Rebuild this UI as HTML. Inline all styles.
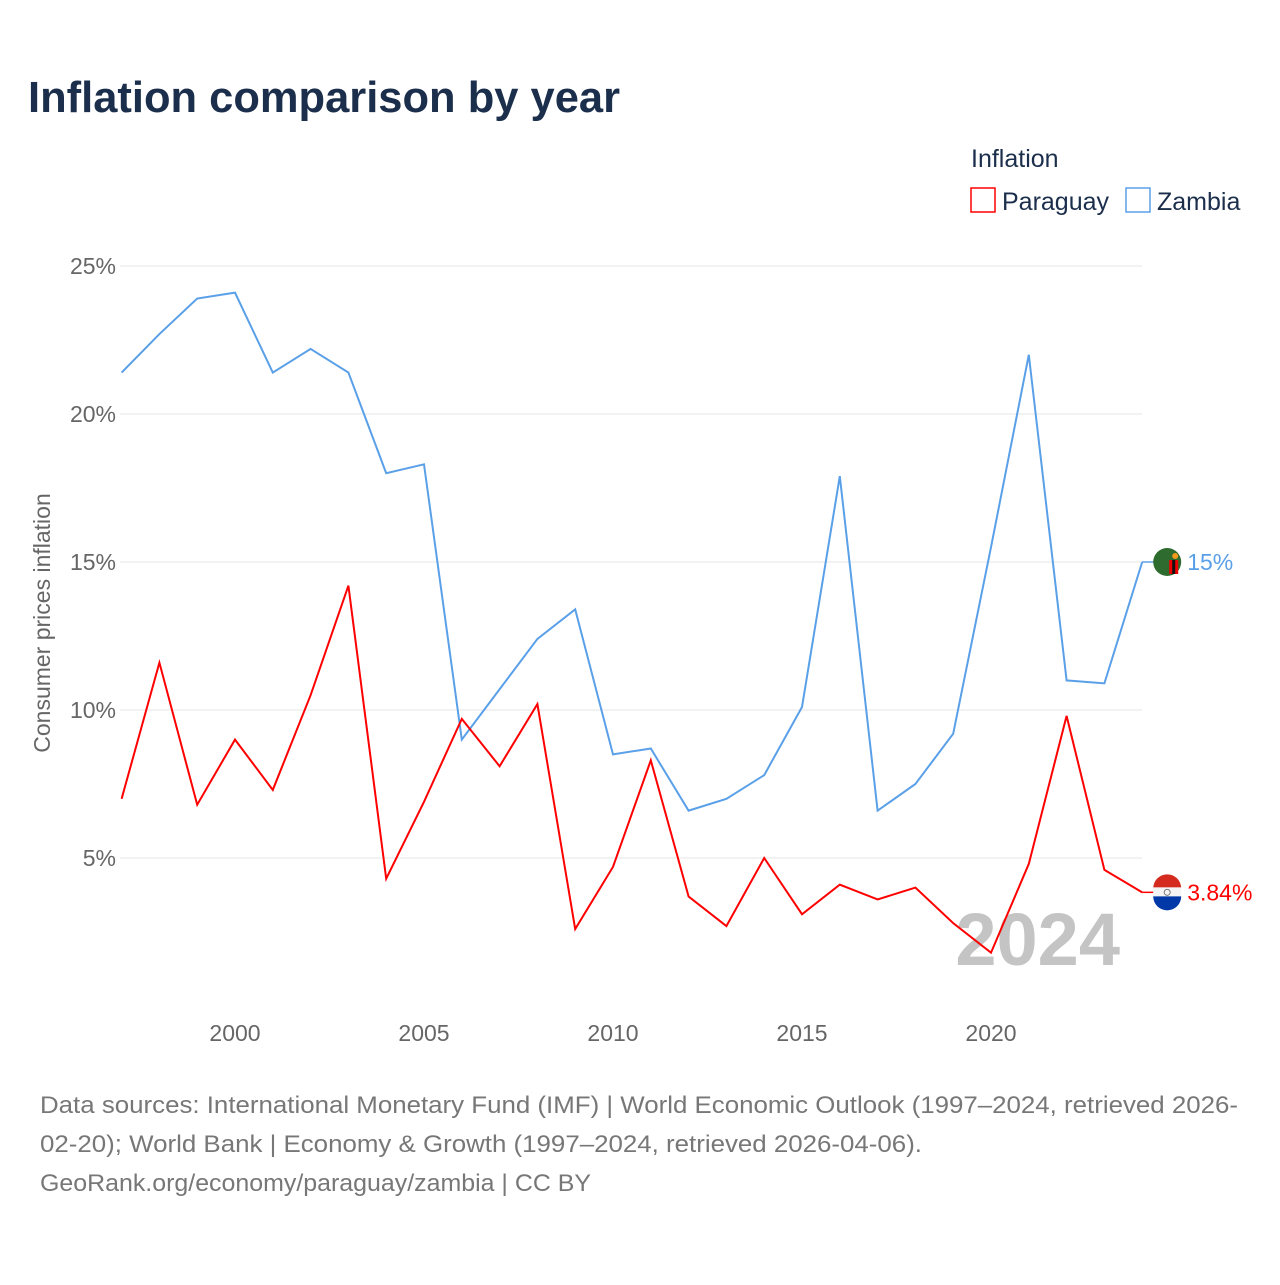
<!DOCTYPE html>
<html><head><meta charset="utf-8"><style>
body{margin:0;background:#fff;font-family:"Liberation Sans",sans-serif;}
</style></head><body>
<svg id="chart" width="1280" height="1280" xmlns="http://www.w3.org/2000/svg">
<text x="28" y="112" font-size="44" font-weight="bold" fill="#1b2e4b" textLength="592" lengthAdjust="spacingAndGlyphs">Inflation comparison by year</text>
<text x="971" y="167" font-size="25" fill="#1b2e4b">Inflation</text>
<g><rect x="971" y="188" width="24" height="24" fill="none" stroke="#ff0000" stroke-width="1.5"/><text x="1002" y="210" font-size="25" fill="#1b2e4b">Paraguay</text></g>
<g><rect x="1126" y="188" width="24" height="24" fill="none" stroke="#5aa0e8" stroke-width="1.5"/><text x="1157" y="210" font-size="25" fill="#1b2e4b">Zambia</text></g>
<text transform="translate(50,623) rotate(-90)" text-anchor="middle" font-size="23" fill="#666">Consumer prices inflation</text>
<g id="grid"></g><g id="xt"></g>
<text x="1120" y="965" text-anchor="end" font-size="74" font-weight="bold" fill="#c4c4c4">2024</text>
<g id="lines"></g>
<text x="40" y="1113" font-size="24" fill="#777" textLength="1198" lengthAdjust="spacingAndGlyphs">Data sources: International Monetary Fund (IMF) | World Economic Outlook (1997–2024, retrieved 2026-</text>
<text x="40" y="1152" font-size="24" fill="#777" textLength="882" lengthAdjust="spacingAndGlyphs">02-20); World Bank | Economy &amp; Growth (1997–2024, retrieved 2026-04-06).</text>
<text x="40" y="1191" font-size="24" fill="#777" textLength="551" lengthAdjust="spacingAndGlyphs">GeoRank.org/economy/paraguay/zambia | CC BY</text>
</svg>
<script>
const years=[1997,1998,1999,2000,2001,2002,2003,2004,2005,2006,2007,2008,2009,2010,2011,2012,2013,2014,2015,2016,2017,2018,2019,2020,2021,2022,2023,2024];
const zambia=[21.4,22.7,23.9,24.1,21.4,22.2,21.4,18.0,18.3,9.0,10.7,12.4,13.4,8.5,8.7,6.6,7.0,7.8,10.1,17.9,6.6,7.5,9.2,15.5,22.0,11.0,10.9,15.0];
const paraguay=[7.0,11.6,6.8,9.0,7.3,10.5,14.2,4.3,6.9,9.7,8.1,10.2,2.6,4.7,8.3,3.7,2.7,5.0,3.1,4.1,3.6,4.0,2.8,1.8,4.8,9.8,4.6,3.84];
const yTicks=[5,10,15,20,25];
const xTicks=[2000,2005,2010,2015,2020];
const NS="http://www.w3.org/2000/svg";
const x=v=>121.6+(v-1997)*37.8, y=v=>1006-v*29.6;
function mk(t,a,p){const e=document.createElementNS(NS,t);for(const k in a)e.setAttribute(k,a[k]);p.appendChild(e);return e;}
const g=document.getElementById('grid');
yTicks.forEach(t=>{
 const l=mk('line',{x1:120,x2:1142,y1:y(t),y2:y(t),stroke:'#e6e6e6'},g);
 
 
 const tx=mk('text',{x:116,y:y(t)+8,'text-anchor':'end','font-size':23,fill:'#666'},g);tx.textContent=t+'%';
 
 
});
const xt=document.getElementById('xt');
xTicks.forEach(t=>{
 const tx=mk('text',{x:x(t),y:1041,'text-anchor':'middle','font-size':23,fill:'#666'},xt);tx.textContent=t;
 
 
});
const L=document.getElementById('lines');
function series(d,c,name,label,fl){
 const p=mk('polyline',{points:d.map((v,i)=>x(years[i])+','+y(v)).join(' '),fill:'none',stroke:c,'stroke-width':2},L);
 
 
 const last=d[d.length-1],ex=x(years[years.length-1]),ey=y(last);
 mk('line',{x1:ex,x2:ex+12,y1:ey,y2:ey,stroke:c,'stroke-width':1.5},L);
 const fg=mk('g',{},L);
 
 
 if(fl==='zm'){
  mk('circle',{cx:ex+25,cy:ey,r:14,fill:'#2e6b2e'},fg);
  mk('rect',{x:ex+27,y:ey-2,width:9,height:14,fill:'#e00'},fg);
  mk('rect',{x:ex+30,y:ey-2,width:3,height:14,fill:'#111'},fg);
  mk('circle',{cx:ex+33,cy:ey-6,r:3,fill:'#f39a1c'},fg);
 }else{
  mk('path',{d:`M${ex+11} ${ey-4}A14 14 0 0 1 ${ex+39} ${ey-4}Z`,fill:'#d52b1e'},fg);
  mk('rect',{x:ex+11,y:ey-5,width:28,height:10,fill:'#f4f4f4'},fg);
  mk('path',{d:`M${ex+11} ${ey+4}A14 14 0 0 0 ${ex+39} ${ey+4}Z`,fill:'#0038a8'},fg);
  mk('circle',{cx:ex+25,cy:ey,r:3,fill:'none',stroke:'#777'},fg);
 }
 const t=mk('text',{x:ex+45,y:ey+8,'font-size':23,fill:c},L);t.textContent=label;
 
 
}
series(zambia,'#5aa0e8','zambia','15%','zm');
series(paraguay,'#ff0000','paraguay','3.84%','py');
</script>
</body></html>
